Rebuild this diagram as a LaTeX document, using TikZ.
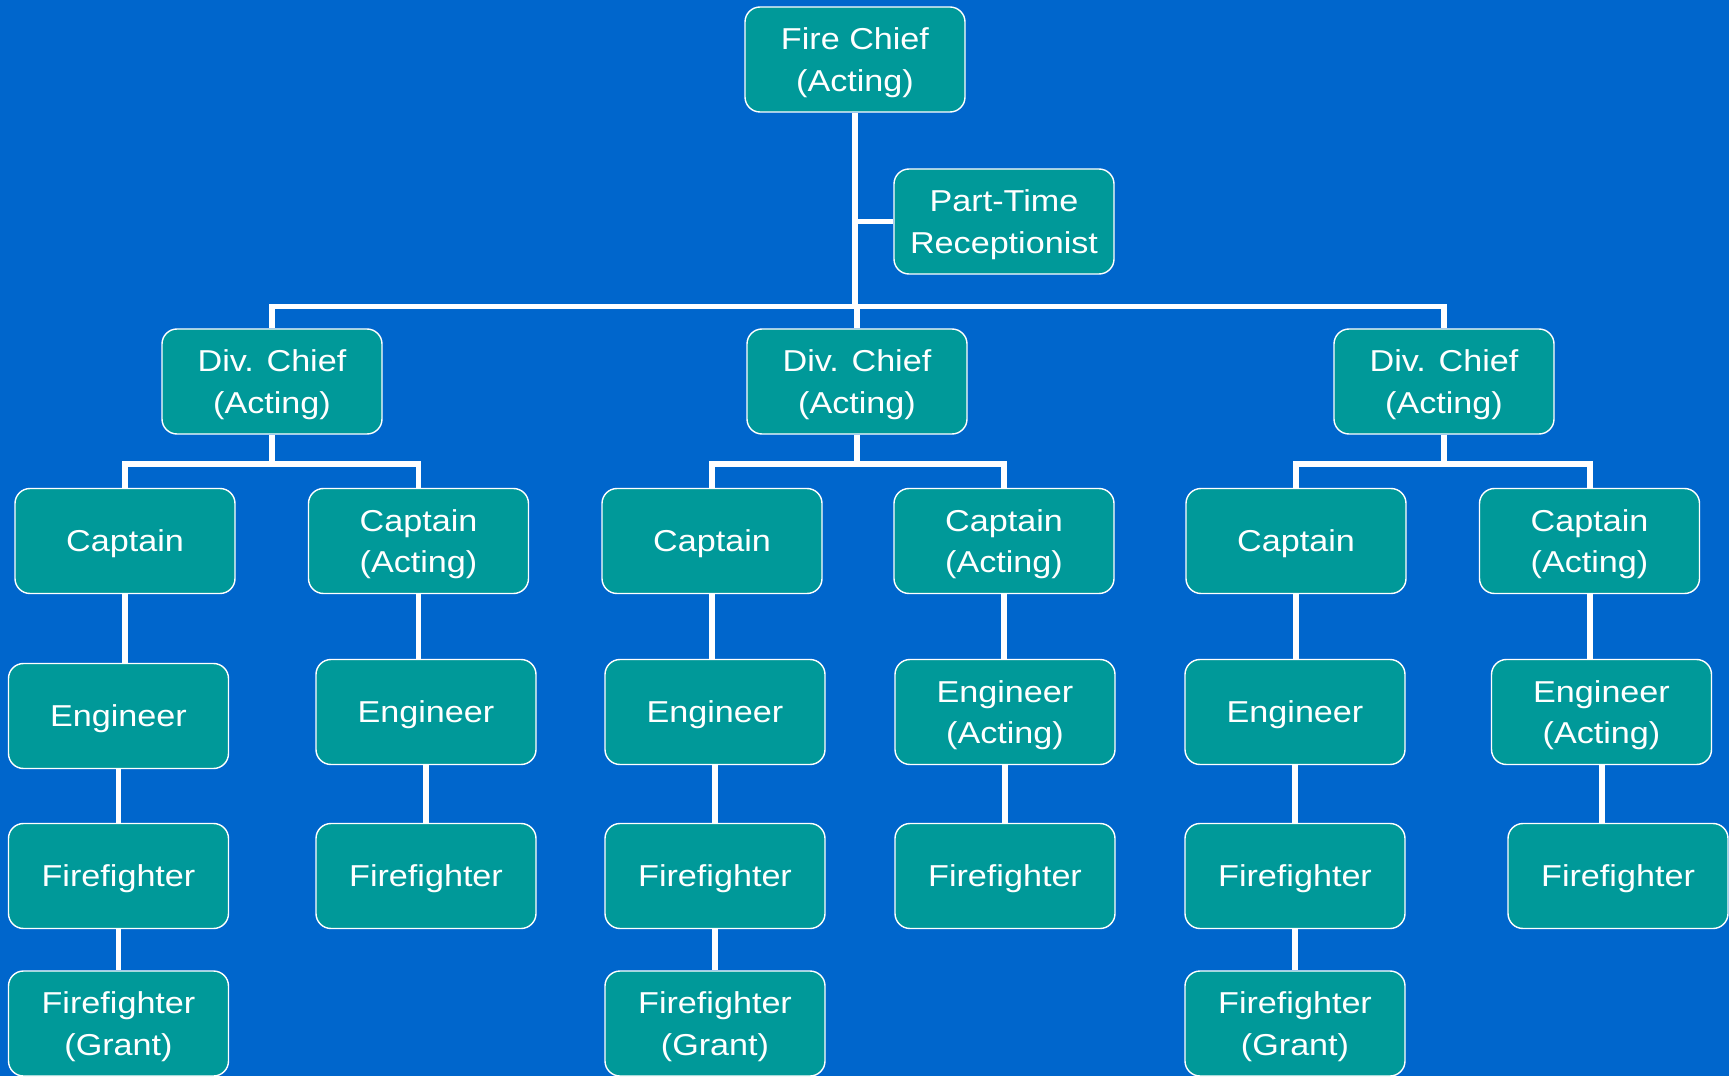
\documentclass[tikz,border=0pt]{standalone}
\usepackage{fontspec}
\setmainfont{Liberation Sans}[FakeStretch=1.13]
\definecolor{slideblue}{RGB}{0,102,204}
\definecolor{boxteal}{RGB}{0,153,153}

\tikzstyle{post} = [rectangle, draw=white, line width=0.8pt, fill=boxteal,
    rounded corners=0.3cm, text=white, align=center, minimum width=4.4cm,
    minimum height=2.1cm, font=\fontsize{17.2}{23.6}\selectfont,
    text depth=-0.5pt]
\tikzstyle{link} = [draw=white, line width=3.4pt]

\begin{document}
\begin{tikzpicture}
	\useasboundingbox (0,0) rectangle (34.58,21.52);
	\fill [slideblue] (0,0) rectangle (34.58,21.52);
	%
	\node [post] (fc) at (17.10,20.33) {Fire Chief\\(Acting)};
	\node [post] (rec) at (20.08,17.09) {Part-Time\\Receptionist};
	%
	\node [post] (dca) at (5.44,13.89) {Div. Chief\\(Acting)};
	\node [post] (dcb) at (17.14,13.89) {Div. Chief\\(Acting)};
	\node [post] (dcc) at (28.88,13.89) {Div. Chief\\(Acting)};
	%
	\node [post] (caa) at (2.50,10.70) {Captain};
	\node [post] (cab) at (8.37,10.70) {Captain\\(Acting)};
	\node [post] (cba) at (14.24,10.70) {Captain};
	\node [post] (cbb) at (20.08,10.70) {Captain\\(Acting)};
	\node [post] (cca) at (25.92,10.70) {Captain};
	\node [post] (ccb) at (31.79,10.70) {Captain\\(Acting)};
	%
	\node [post] (eaa) at (2.37,7.20) {Engineer};
	\node [post] (eab) at (8.52,7.28) {Engineer};
	\node [post] (eba) at (14.30,7.28) {Engineer};
	\node [post] (ebb) at (20.10,7.28) {Engineer\\(Acting)};
	\node [post] (eca) at (25.90,7.28) {Engineer};
	\node [post] (ecb) at (32.03,7.28) {Engineer\\(Acting)};
	%
	\node [post] (faa) at (2.37,4.00) {Firefighter};
	\node [post] (fab) at (8.52,4.00) {Firefighter};
	\node [post] (fba) at (14.30,4.00) {Firefighter};
	\node [post] (fbb) at (20.10,4.00) {Firefighter};
	\node [post] (fca) at (25.90,4.00) {Firefighter};
	\node [post] (fcb) at (32.36,4.00) {Firefighter};
	%
	\node [post] (gaa) at (2.37,1.05) {Firefighter\\(Grant)};
	\node [post] (gba) at (14.30,1.05) {Firefighter\\(Grant)};
	\node [post] (gca) at (25.90,1.05) {Firefighter\\(Grant)};
	%
	\coordinate (ba) at (17.10,15.39);
	\draw [link] (fc.south) -- (ba);
	\draw [link] (fc.south |- rec.west) -- (rec.west);
	\draw [link] (dca.north) |- (ba) -| (dcc.north);
	\draw [link] (dcb.north) -- (dcb.north |- ba);
	%
	\draw [link] (dca.south) -- ++(0,-0.58) coordinate (ka);
	\draw [link] (caa.north) |- (ka) -| (cab.north);
	\draw [link] (dcb.south) -- ++(0,-0.58) coordinate (kb);
	\draw [link] (cba.north) |- (kb) -| (cbb.north);
	\draw [link] (dcc.south) -- ++(0,-0.58) coordinate (kc);
	\draw [link] (cca.north) |- (kc) -| (ccb.north);
	%
	\draw [link] (caa.south) -- (caa.south |- eaa.north);
	\draw [link] (eaa.south) -- (eaa.south |- faa.north);
	\draw [link] (faa.south) -- (faa.south |- gaa.north);
	\draw [link] (cab.south) -- (cab.south |- eab.north);
	\draw [link] (eab.south) -- (eab.south |- fab.north);
	%
	\draw [link] (cba.south) -- (cba.south |- eba.north);
	\draw [link] (eba.south) -- (eba.south |- fba.north);
	\draw [link] (fba.south) -- (fba.south |- gba.north);
	\draw [link] (cbb.south) -- (cbb.south |- ebb.north);
	\draw [link] (ebb.south) -- (ebb.south |- fbb.north);
	%
	\draw [link] (cca.south) -- (cca.south |- eca.north);
	\draw [link] (eca.south) -- (eca.south |- fca.north);
	\draw [link] (fca.south) -- (fca.south |- gca.north);
	\draw [link] (ccb.south) -- (ccb.south |- ecb.north);
	\draw [link] (ecb.south) -- (ecb.south |- fcb.north);
\end{tikzpicture}
\end{document}
